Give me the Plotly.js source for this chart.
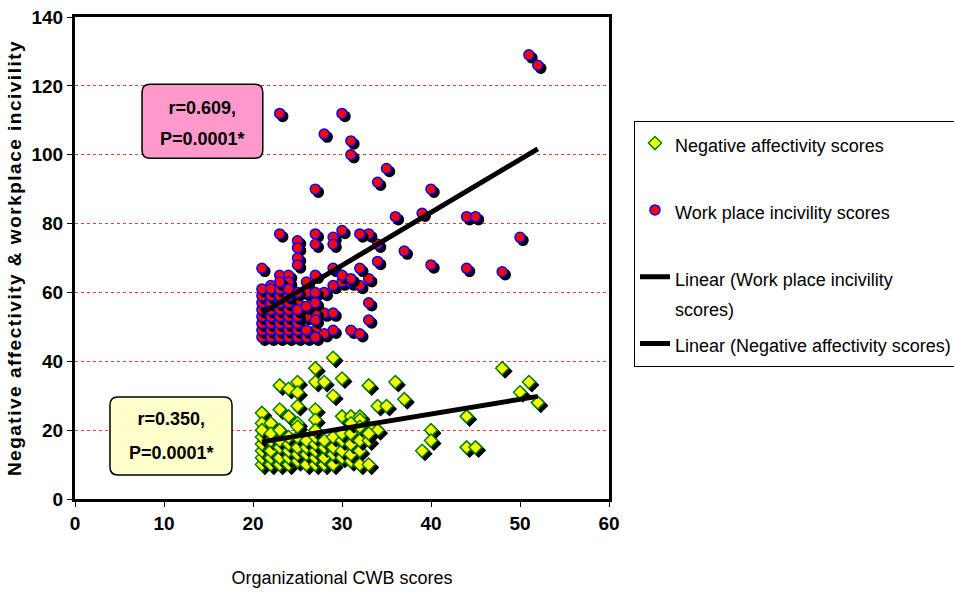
<!DOCTYPE html>
<html><head><meta charset="utf-8">
<script src="https://cdn.plot.ly/plotly-3.0.1.min.js"></script>
<style>
html,body{margin:0;padding:0;background:#fff;}
#chart{width:954px;height:592px;}
.scatterlayer .trace .points path{filter:drop-shadow(3px 3px 0px #000);}
.ytitle{letter-spacing:1.5px;}
</style></head><body><div id="chart"></div>
<script>
// Work place incivility scores (x = Organizational CWB score)
const wpX = [51,52,23,30,28,31,31,35,34,27,40,36,39,44,45,50,37,40,44,48,34,34,33,32,30,29,29,27,27,25,25,25,25,23,21,33,32,33,33,
  23,24,22,24,26,27,29,29,30,31,32,30,31,28,26,27,28,27,29,26,25,27,28,29,31,32,
  21,21,21,21,21,21,21,21,
  22,22,22,22,22,22,22,22,
  23,23,23,23,23,23,23,23,23,
  24,24,24,24,24,24,24,24,
  25,25,25,25,25,25,
  26,26,26,
  27,27,27];
const wpY = [129,126,112,112,106,104,100,96,92,90,90,82,83,82,82,76,72,68,67,66,74,69,77,77,78,76,74,77,74,75,73,70,68,77,67,64,67,57,52,
  65,65,62,63,63,65,67,62,63,63,62,65,64,60,60,60,54,54,54,53,57,49,48,49,49,48,
  47,49,51,53,55,57,59,61,
  47,49,51,53,55,57,59,61,
  47,49,51,53,55,57,59,61,63,
  47,49,51,53,55,57,59,61,
  47,49,51,53,55,60,
  47,49,56,
  47,52,57];

// Negative affectivity scores
const naX = [29,27,48,27,28,30,36,51,33,23,24,25,25,29,37,50,52,25,34,35,21,23,27,24,44,30,31,32,27,25,21,22,33,34,40,40,39,44,45,32,
  21,21,21,21,21,21,
  22,22,22,22,22,
  23,23,23,23,23,
  24,24,24,24,24,
  25,25,25,25,25,
  26,26,26,26,
  27,27,27,27,27,27,
  28,28,28,28,
  29,29,29,29,
  30,30,30,30,
  31,31,31,31,31,
  32,32,32,32,
  33,33,33];
const naY = [41,38,38,34,34,35,34,34,33,33,32,34,31,30,29,31,28,27,27,27,25,26,26,24,24,24,24,24,23,22,22,22,21,20,20,17,14,15,15,23,
  10,12,14,16,18,20,
  10,12,14,17,19,
  10,12,15,17,20,
  10,12,14,16,18,
  11,13,15,18,21,
  10,13,15,17,
  10,12,14,16,18,20,
  10,12,15,17,
  10,13,15,18,
  12,14,17,19,
  11,13,16,19,22,
  10,14,17,21,
  10,17,19];

// Linear trend lines (endpoints)
const trendX = [21, 52];
const trendWP = [54, 101.7];
const trendNA = [16.6, 29.8];

const xTicks = [0,10,20,30,40,50,60];
const yTicks = [0,20,40,60,80,100,120,140];

const NARROW = '"Liberation Sans Narrow","Arial Narrow","Liberation Sans",Arial,sans-serif';
const WIDE = '"Liberation Sans",Arial,sans-serif';

const traces = [
  {type:'scatter', mode:'markers', legendgroup:'g1', name:'<span style="font-size:18px">Negative affectivity scores</span><br> ',
   x:naX, y:naY, marker:{symbol:'diamond', size:10, color:'#ffff00', line:{color:'#008000', width:1.5}}},
  {type:'scatter', mode:'markers', legendgroup:'g2', name:'<span style="font-size:18px">Work place incivility scores</span><br> ',
   x:wpX, y:wpY, marker:{symbol:'circle', size:10, color:'#ff0000', line:{color:'#0000ff', width:1.5}}},
  {type:'scatter', mode:'lines', legendgroup:'g3', name:'<span style="font-size:18px">Linear (Work place incivility</span><br><span style="font-size:18px">scores)</span>',
   x:trendX, y:trendWP, line:{color:'#000', width:5}},
  {type:'scatter', mode:'lines', legendgroup:'g4', name:'<span style="font-size:18px">Linear (Negative affectivity scores)</span>',
   x:trendX, y:trendNA, line:{color:'#000', width:5}}
];

function roundRect(x0,x1,y0,y1,r){
  const rx = r/8.9, ry = r/3.443;
  return `M${x0+rx},${y0} L${x1-rx},${y0} Q${x1},${y0} ${x1},${y0+ry} L${x1},${y1-ry} Q${x1},${y1} ${x1-rx},${y1} L${x0+rx},${y1} Q${x0},${y1} ${x0},${y1-ry} L${x0},${y0+ry} Q${x0},${y0} ${x0+rx},${y0} Z`;
}

const layout = {
  width:954, height:592,
  margin:{l:75, r:345, t:17, b:93, autoexpand:false},
  paper_bgcolor:'#fff', plot_bgcolor:'#fff',
  showlegend:true,
  xaxis:{range:[0,60], tickvals:xTicks, showline:true, linewidth:3, linecolor:'#000', mirror:true,
    ticks:'outside', ticklen:5, tickwidth:1, tickcolor:'#000', showgrid:false, zeroline:false,
    tickfont:{family:NARROW, size:19, color:'#000', weight:'bold'}, ticklabelstandoff:0,
    title:{text:'Organizational CWB scores', font:{family:NARROW, size:18, color:'#000'}, standoff:39}},
  yaxis:{range:[0,140], tickvals:yTicks, showline:true, linewidth:3, linecolor:'#000', mirror:true,
    ticks:'outside', ticklen:5, tickwidth:1, tickcolor:'#000', zeroline:false,
    showgrid:true, gridcolor:'#ff3b3b', griddash:'dot', gridwidth:1,
    tickfont:{family:NARROW, size:19, color:'#000', weight:'bold'},
    title:{text:'Negative affectivity &amp; workplace incivility', font:{family:WIDE, size:19, color:'#000', weight:'bold'}, standoff:5}},
  legend:{x:1.0468, y:0.785, xanchor:'left', yanchor:'top', bordercolor:'#000', borderwidth:1, bgcolor:'#fff',
    font:{family:NARROW, size:23, color:'#000'}, valign:'top', traceorder:'grouped', tracegroupgap:4},
  shapes:[
    {type:'path', xref:'x', yref:'y', layer:'above', path:roundRect(7.53,21.1,99,120.5,8), fillcolor:'#ff99cc', line:{color:'#000', width:1.5}},
    {type:'path', xref:'x', yref:'y', layer:'above', path:roundRect(3.93,17.64,7,29.6,8), fillcolor:'#ffffcc', line:{color:'#000', width:1.5}}
  ],
  annotations:[
    {x:14.3, y:109, xref:'x', yref:'y', showarrow:false, align:'center',
     text:'<span style="font-size:18px">r=0.609,</span><br><span style="font-size:18px">P=0.0001*</span>',
     font:{family:NARROW, size:24, color:'#000', weight:'bold'}},
    {x:10.8, y:18.3, xref:'x', yref:'y', showarrow:false, align:'center',
     text:'<span style="font-size:18px">r=0.350,</span><br><span style="font-size:18px">P=0.0001*</span>',
     font:{family:NARROW, size:26, color:'#000', weight:'bold'}}
  ]
};

Plotly.newPlot('chart', traces, layout, {displayModeBar:false, staticPlot:true});
</script></body></html>
